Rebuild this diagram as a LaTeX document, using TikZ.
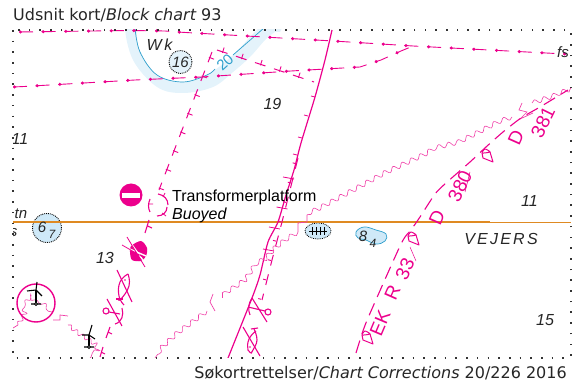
\documentclass[tikz,border=0pt]{standalone}
\usepackage{fontspec}
\setmainfont{Liberation Sans}
\newfontfamily\dvfont{DejaVu Sans}
\newfontfamily\vejfont[LetterSpace=14]{Liberation Sans}
\usetikzlibrary{decorations.pathmorphing,decorations.markings,shapes.geometric}
\definecolor{mag}{HTML}{EC008C}
\definecolor{cable}{HTML}{F040A8}
\definecolor{shoal}{HTML}{CFE9F8}
\definecolor{band}{HTML}{E4F3FB}
\definecolor{cont}{HTML}{2E9FCC}
\definecolor{orng}{HTML}{DF8A22}
\tikzset{
  framedot/.style={line width=1.3pt,dash pattern=on 1.6pt off 9.1pt,color=black!80},
  dotline/.style={mag,line width=.9pt,dash pattern=on 14pt off 8.7pt,postaction={decorate},
    decoration={markings,mark=between positions 1.5pt and 1 step 22.7pt with {\fill[mag] (0,0) circle (1.7pt);}}},
  tickline/.style={mag,line width=1pt,dash pattern=on 11pt off 9pt,postaction={decorate},
    decoration={markings,mark=between positions 6pt and 1 step 20pt with {\draw[mag,line width=.9pt,solid] (0pt,-1pt)--(0pt,#1);}}},
  tickline/.default=4.5pt,
  cablew/.style={cable,line width=.6pt,decorate,decoration={snake,segment length=10pt,amplitude=2.3pt}},
  cablez/.style={cable,line width=.7pt},
  mg/.style={mag,line width=1.1pt},
  mgthin/.style={mag,line width=.5pt},
  dep/.style={font=\itshape\fontsize{16}{16}\selectfont,inner sep=0pt,text=black!85},
  depsm/.style={font=\itshape\fontsize{15}{15}\selectfont,inner sep=0pt,text=black!85},
  magtxt/.style={font=\fontsize{19}{19}\selectfont,text=mag,inner sep=0pt},
  turb/.style={black,line width=1.1pt},
}
\newcommand{\teardrop}[2]{\draw[mag,line width=1pt,line join=round,fill=white] plot[smooth cycle,tension=.4] coordinates {(#1-5,#2-2) (#1-2,#2-6) (#1+3,#2-3)} ;
  \draw[mag,line width=1pt,line join=round] (#1+3,#2-3) -- (#1+6,#2+7) -- (#1-4,#2+3) -- (#1-5,#2-2);}
\begin{document}
\begin{tikzpicture}[x=1pt,y=-1pt]
\useasboundingbox (0,0) rectangle (576,387);
\begin{scope}
\clip (13,30) rectangle (571,358);
% light band
\fill[band] plot[smooth cycle,tension=.6] coordinates {(125,26) (133,60) (157,87) (183,93) (213,87) (233,72) (250,57) (267,38) (282,26) (262,26) (233,55) (207,75) (183,82) (157,75) (140,52) (135,26)};
\fill[band] (125,28) rectangle (135,32);
\fill[band] (262,28) -- (282,28) -- (280,32) -- (258,32) -- cycle;
\draw[cont,line width=.7pt] plot[smooth,tension=.6] coordinates {(135,28) (140,52) (157,75) (183,82) (207,75) (215,69)};
\draw[cont,line width=.7pt] (233,55) -- (264,28);
\node[rotate=42,text=cont,inner sep=0pt,font=\fontsize{15}{15}\selectfont] (cont20) at (225,62.5) {20};
% shoals
\node[draw=black,fill=shoal,circle,densely dotted,line width=.9pt,minimum size=29pt,inner sep=0pt] (d67) at (47,228) {};
\node[draw=black,fill=band,circle,densely dotted,line width=.9pt,minimum size=23pt,inner sep=0pt] (d16) at (180.5,62) {};
\node[draw=black,fill=shoal,ellipse,densely dotted,line width=.8pt,minimum width=26pt,minimum height=16pt,inner sep=0pt] (obstr) at (318,231) {};
\draw[black,line width=.7pt] (309,231) -- (327,231) (312,227) -- (312,235) (316,227) -- (316,235) (320,227) -- (320,235) (324,227) -- (324,235);
\draw[cont,fill=shoal,line width=.7pt] plot[smooth cycle,tension=.7] coordinates {(356,232) (364,227) (376,230) (386,234) (385,241) (376,244) (366,240) (358,238)};
% orange line
\draw[orng,line width=1.7pt] (13,222.2) -- (490,222.2);
\draw[orng,line width=1.5pt] (490,222.6) -- (571,222.6);
% dotted cable lines
\draw[dotline] plot coordinates {(19,32) (130,30.5) (165,31) (177,32) (333,41) (413,46) (565,54)};
\draw[dotline] plot coordinates {(13,87) (24,86.5) (135,80) (202,77) (291,71) (360,67) (381,60) (401,51) (413,46)};
\draw[tickline] (217,50) -- (314,82);
\draw[tickline] (212,52) -- (159,190);
\draw[mg] (149,220) -- (145,233) (147.5,226) -- (152,228);
\draw[mg] (110,327) -- (106,338) (108,332) -- (112,334);
\draw[mg] (103,347) -- (100,357) (101,352) -- (105,354);
% solid line
\draw[mag,line width=1.2pt] plot[smooth,tension=.4] coordinates {(332,30) (325,60) (315,97) (301,143) (294,170) (286,195) (278,222) (268,242) (260,275) (252,298) (228,358)};
\foreach \a/\b in {315/97,308/116,302/138,297/155}{\draw[mg,line width=.8pt] (\a,\b) ++(-4,-1) -- ++(4,1);}
\draw[tickline=-4pt] (298,158) -- (282,222) -- (272,260) -- (262,300);
\foreach \a/\b in {290/178,283.5/208,276/228,270/250}{\draw[mag,line width=.8pt] (\a-7,\b-1) -- (\a+4,\b+1);}
% No-entry
\fill[mag] (131,195) circle (11.5);
\fill[white] (122,192.7) rectangle (140,198);
% platform arcs
\draw[mg] (158,194) .. controls (164,195) and (168,199) .. (168,205);
\draw[mg] (167,207) .. controls (167,212) and (163,216) .. (157,216);
\draw[mg] (150,199) .. controls (148,204) and (148,208) .. (150,212);
\draw[mg,line width=.8pt] (148,204) -- (153,204) (163,197) -- (165,193) (162,213) -- (166,216);
% sector
\fill[mag] plot[smooth cycle,tension=.5] coordinates {(131,246) (141,241) (147,248) (146,256) (141,261) (132,260) (130,252)};
\draw[white,line width=1.4pt] (130,242) -- (145,263);
\draw[white,line width=1.4pt] (125,247) -- (146,256);
\draw[mag,line width=.8pt] (127,237) -- (145,267) (122,245) -- (143,257);
% fish 1
\draw[mg] (117,270) -- (132,302);
\draw[mg] plot[smooth,tension=.8] coordinates {(128,274) (120,282) (119,296) (124,305)};
\draw[mg] plot[smooth,tension=.8] coordinates {(128,274) (129,286) (121,299) (118,299)};
\draw[mg] (123,299) -- (116,299);
\fill[mag] (125,280) circle (.9);
% fish 2
\draw[mg] (243,327) -- (260,356);
\draw[mg] plot[smooth,tension=.8] coordinates {(256,331) (249,339) (248,350) (252,353)};
\draw[mg] plot[smooth,tension=.8] coordinates {(254,329) (257,340) (253,350) (251,353)};
\draw[mg] (251,329) -- (258,328);
\fill[mag] (250,347) circle (.9);
% anchor 1
\draw[mg] (106,311) circle (3);
\draw[mg] (109,312) -- (120,314) (107,299) -- (122,326);
\draw[mg] (122,308) .. controls (124,315) and (122,322) .. (115,324);
% anchor 2
\draw[mg] (268,312) circle (3);
\draw[mg] (248,307) -- (265,311) (252,298) -- (267,322);
\draw[mg] (252,298) .. controls (248,304) and (248,310) .. (250,315);
% wavy cables
\draw[cablew] plot coordinates {(512,117) (503,120) (480,132) (460,142) (440,147) (431,153) (388,173) (355,191) (325,207) (307,215)};
\draw[cablez] (307,215) -- (307,222) -- (298,223) -- (298,232);
\draw[cablew] plot coordinates {(298,232) (288,238) (275,248) (267,257) (257,262) (247,277) (235,285) (222,293)};
\draw[cablez] (222,293) -- (222,298);
\draw[cablez] (213,294) -- (210,302) -- (215,311);
\draw[cablew] plot coordinates {(207,311) (180,331) (163,347) (155,358)};
\draw[cablez] (522,103) -- (519,110) -- (527,112) -- (520,119) -- (533,113);
\draw[cablew] plot coordinates {(532,103) (550,97) (558,93) (572,88)};
\draw[cablez] (13,328) -- (18,325);
\draw[cablew,decoration={segment length=8pt,amplitude=2pt}] plot coordinates {(18,325) (25,313) (23,305) (30,298) (35,303) (40,303) (48,310) (52,312)};
\draw[cablez] (53,320) -- (60,320) -- (60,315) -- (68,316);
\draw[cablew,decoration={segment length=8pt,amplitude=2pt}] plot coordinates {(68,325) (77,332) (85,337) (94,343) (97,352) (90,358)};
% heavy dashed line
\draw[mag,line width=1.1pt,dash pattern=on 13pt off 7pt] plot[smooth,tension=.4] coordinates {(356,353) (361,337) (368,318) (401,244) (411,230) (420,217) (435,194) (446,183) (470,162) (486,147) (503,132) (521,118) (540,107) (568,90)};
\teardrop{367}{337}
\teardrop{413}{238}
\teardrop{487}{155}
\draw[mgthin] (410,247) -- (416,261);
\draw[mgthin] (470,172) -- (465,192);
% circle and turbines
\draw[mag,line width=1.4pt] (36,303) circle (19);
\draw[turb,line width=1.8pt] (36,290) -- (36,303);
\draw[turb] (37,282) -- (36,290) (27,291) -- (36,290) (42,296) -- (36,290) (31,304) -- (41,304);
\draw[turb,fill=white,line width=.9pt] (36,304) circle (1.6);
\draw[turb,line width=1.8pt] (89,335) -- (89,347);
\draw[turb] (92,325) -- (89,335) (82,335) -- (89,335) (95,339) -- (89,335) (84,347) -- (94,347);
\draw[turb,fill=white,line width=.9pt] (89,347) circle (1.6);
% chart labels
\node[dep] (wk) at (159.5,45) {W\,k};
\node[depsm] (t16) at (180.5,62) {16};
\node[dep] (t19) at (272.5,104) {19};
\node[dep] (t11a) at (20,139) {11};
\node[depsm] (ttn) at (21,214) {tn};
\node[depsm] (tss) at (13.5,233) {s};
\node[depsm] (t6) at (42,227) {6};
\node[depsm,font=\itshape\fontsize{12}{12}\selectfont] (t7) at (52,234) {7};
\node[dep] (t13) at (105,258) {13};
\node[depsm] (t8) at (363,236) {8};
\node[depsm,font=\itshape\fontsize{12}{12}\selectfont] (t4) at (373,243) {4};
\node[dep] (t11b) at (529.5,201) {11};
\node[dep] (t15) at (545,320) {15};
\node[font=\itshape\fontsize{16}{16}\vejfont\selectfont,inner sep=0pt,text=black!85] (vej) at (501,239) {\itshape VEJERS};
\node[depsm] (tfs) at (563,52) {fs};
% magenta labels
\node[magtxt,rotate=67] (ek) at (380,323) {EK};
\node[magtxt,rotate=66] (r) at (392.5,293) {R};
\node[magtxt,rotate=66] (t33) at (405,269) {33};
\node[magtxt,rotate=66] (da) at (437,218) {D};
\node[magtxt,rotate=64] (t380) at (460,186) {380};
\node[magtxt,rotate=66] (db) at (516,138) {D};
\node[magtxt,rotate=64] (t381) at (543,122) {381};
\end{scope}
% frame
\draw[framedot] (13,30) rectangle (571,358);
% platform text
\node[anchor=west,inner sep=0pt,font=\fontsize{16}{16}\selectfont] (plat) at (172,197.5) {Transformerplatform};
\node[anchor=west,inner sep=0pt,font=\itshape\fontsize{16}{16}\selectfont] (buoy) at (172,215.5) {Buoyed};
% title and footer
\node[anchor=west,inner sep=0pt,font=\dvfont\fontsize{16}{16}\selectfont,text=black!85] (title) at (13,15) {Udsnit kort/{\itshape Block chart} 93};
\node[anchor=east,inner sep=0pt,font=\dvfont\fontsize{16}{16}\selectfont,text=black!85] (foot) at (567,373) {Søkortrettelser/{\itshape Chart Corrections} 20/226 2016};
\end{tikzpicture}
\end{document}
